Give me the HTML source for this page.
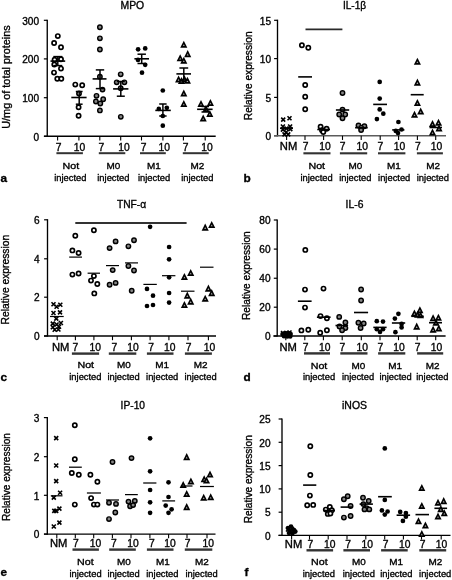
<!DOCTYPE html><html><head><meta charset="utf-8"><style>html,body{margin:0;padding:0;background:#fff;}svg{display:block;will-change:transform;}text{font-family:"Liberation Sans",sans-serif;-webkit-font-smoothing:antialiased;stroke:#000;stroke-width:0.34px;}</style></head><body>
<svg width="452" height="580" viewBox="0 0 452 580">
<rect width="452" height="580" fill="#fff"/>
<line x1="47.25" y1="19.7" x2="47.25" y2="136.9" stroke="#000" stroke-width="1.35"/>
<line x1="43.85" y1="20.3" x2="47.25" y2="20.3" stroke="#000" stroke-width="1.2"/>
<text x="39.1" y="24.5" font-size="10.1" text-anchor="end" font-weight="normal" fill="#000">300</text>
<line x1="43.85" y1="58.9" x2="47.25" y2="58.9" stroke="#000" stroke-width="1.2"/>
<text x="39.1" y="63.1" font-size="10.1" text-anchor="end" font-weight="normal" fill="#000">200</text>
<line x1="43.85" y1="97.7" x2="47.25" y2="97.7" stroke="#000" stroke-width="1.2"/>
<text x="39.1" y="101.9" font-size="10.1" text-anchor="end" font-weight="normal" fill="#000">100</text>
<line x1="43.85" y1="136.3" x2="47.25" y2="136.3" stroke="#000" stroke-width="1.2"/>
<text x="39.1" y="140.5" font-size="10.1" text-anchor="end" font-weight="normal" fill="#000">0</text>
<line x1="44.0" y1="136.3" x2="215.7" y2="136.3" stroke="#000" stroke-width="1.4"/>
<line x1="57.6" y1="136.3" x2="57.6" y2="140.5" stroke="#000" stroke-width="1.1"/>
<line x1="78.9" y1="136.3" x2="78.9" y2="140.5" stroke="#000" stroke-width="1.1"/>
<line x1="99.8" y1="136.3" x2="99.8" y2="140.5" stroke="#000" stroke-width="1.1"/>
<line x1="120.7" y1="136.3" x2="120.7" y2="140.5" stroke="#000" stroke-width="1.1"/>
<line x1="141.5" y1="136.3" x2="141.5" y2="140.5" stroke="#000" stroke-width="1.1"/>
<line x1="162.9" y1="136.3" x2="162.9" y2="140.5" stroke="#000" stroke-width="1.1"/>
<line x1="183.4" y1="136.3" x2="183.4" y2="140.5" stroke="#000" stroke-width="1.1"/>
<line x1="205.2" y1="136.3" x2="205.2" y2="140.5" stroke="#000" stroke-width="1.1"/>
<text x="58.5" y="150.7" font-size="10.3" text-anchor="middle" font-weight="normal" fill="#000">7</text>
<text x="79.4" y="150.7" font-size="10.3" text-anchor="middle" font-weight="normal" fill="#000">10</text>
<text x="101.3" y="150.7" font-size="10.3" text-anchor="middle" font-weight="normal" fill="#000">7</text>
<text x="124" y="150.7" font-size="10.3" text-anchor="middle" font-weight="normal" fill="#000">10</text>
<text x="143.5" y="150.7" font-size="10.3" text-anchor="middle" font-weight="normal" fill="#000">7</text>
<text x="164.2" y="150.7" font-size="10.3" text-anchor="middle" font-weight="normal" fill="#000">10</text>
<text x="185.5" y="150.7" font-size="10.3" text-anchor="middle" font-weight="normal" fill="#000">7</text>
<text x="207.1" y="150.7" font-size="10.3" text-anchor="middle" font-weight="normal" fill="#000">10</text>
<line x1="56.4" y1="153.2" x2="82.9" y2="153.2" stroke="#333" stroke-width="2.0"/>
<line x1="98.8" y1="153.2" x2="125.3" y2="153.2" stroke="#333" stroke-width="2.0"/>
<line x1="140" y1="153.2" x2="165.8" y2="153.2" stroke="#333" stroke-width="2.0"/>
<line x1="182.8" y1="153.2" x2="208.7" y2="153.2" stroke="#333" stroke-width="2.0"/>
<text x="70.9" y="168.9" font-size="9.5" text-anchor="middle" font-weight="normal" fill="#000" textLength="16.6" lengthAdjust="spacingAndGlyphs">Not</text>
<text x="70.3" y="180.8" font-size="9.5" text-anchor="middle" font-weight="normal" fill="#000" textLength="32.2" lengthAdjust="spacingAndGlyphs">injected</text>
<text x="113.4" y="168.9" font-size="9.5" text-anchor="middle" font-weight="normal" fill="#000" textLength="13.8" lengthAdjust="spacingAndGlyphs">M0</text>
<text x="113.4" y="180.8" font-size="9.5" text-anchor="middle" font-weight="normal" fill="#000" textLength="32.2" lengthAdjust="spacingAndGlyphs">injected</text>
<text x="153.9" y="168.9" font-size="9.5" text-anchor="middle" font-weight="normal" fill="#000" textLength="13.8" lengthAdjust="spacingAndGlyphs">M1</text>
<text x="154.1" y="180.8" font-size="9.5" text-anchor="middle" font-weight="normal" fill="#000" textLength="32.2" lengthAdjust="spacingAndGlyphs">injected</text>
<text x="197.4" y="168.9" font-size="9.5" text-anchor="middle" font-weight="normal" fill="#000" textLength="13.8" lengthAdjust="spacingAndGlyphs">M2</text>
<text x="197.3" y="180.8" font-size="9.5" text-anchor="middle" font-weight="normal" fill="#000" textLength="32.2" lengthAdjust="spacingAndGlyphs">injected</text>
<text x="132.35" y="9.1" font-size="10.3" text-anchor="middle" font-weight="normal" fill="#000" textLength="23.7" lengthAdjust="spacingAndGlyphs">MPO</text>
<text x="0" y="0" font-size="10.4" text-anchor="middle" transform="translate(10.0,77.05) rotate(-90)" textLength="103.5" lengthAdjust="spacingAndGlyphs">U/mg of total proteins</text>
<text x="0.4" y="181.8" font-size="11.8" text-anchor="start" font-weight="bold" fill="#000">a</text>
<circle cx="57.8" cy="36.1" r="2.1" fill="#fff" stroke="#000" stroke-width="1.7"/>
<circle cx="54.1" cy="43.0" r="2.1" fill="#fff" stroke="#000" stroke-width="1.7"/>
<circle cx="61.0" cy="47.3" r="2.1" fill="#fff" stroke="#000" stroke-width="1.7"/>
<circle cx="54.6" cy="59.8" r="2.1" fill="#fff" stroke="#000" stroke-width="1.7"/>
<circle cx="61.0" cy="59.2" r="2.1" fill="#fff" stroke="#000" stroke-width="1.7"/>
<circle cx="54.3" cy="64.5" r="2.1" fill="#fff" stroke="#000" stroke-width="1.7"/>
<circle cx="61.0" cy="68.6" r="2.1" fill="#fff" stroke="#000" stroke-width="1.7"/>
<circle cx="54" cy="72.6" r="2.1" fill="#fff" stroke="#000" stroke-width="1.7"/>
<circle cx="57.3" cy="78.8" r="2.1" fill="#fff" stroke="#000" stroke-width="1.7"/>
<circle cx="61.3" cy="78.8" r="2.1" fill="#fff" stroke="#000" stroke-width="1.7"/>
<line x1="50.5" y1="61.1" x2="65.2" y2="61.1" stroke="#000" stroke-width="1.6"/>
<line x1="57.8" y1="56.6" x2="57.8" y2="65.6" stroke="#000" stroke-width="1.5"/>
<line x1="53.3" y1="56.6" x2="62.3" y2="56.6" stroke="#000" stroke-width="1.5"/>
<line x1="53.3" y1="65.6" x2="62.3" y2="65.6" stroke="#000" stroke-width="1.5"/>
<circle cx="75.3" cy="84.6" r="2.1" fill="#fff" stroke="#000" stroke-width="1.7"/>
<circle cx="82.2" cy="85.2" r="2.1" fill="#fff" stroke="#000" stroke-width="1.7"/>
<circle cx="79" cy="93.5" r="2.1" fill="#fff" stroke="#000" stroke-width="1.7"/>
<circle cx="78.6" cy="107.2" r="2.1" fill="#fff" stroke="#000" stroke-width="1.7"/>
<circle cx="78.6" cy="115.8" r="2.1" fill="#fff" stroke="#000" stroke-width="1.7"/>
<line x1="71.3" y1="97.5" x2="86.6" y2="97.5" stroke="#000" stroke-width="1.6"/>
<line x1="79.2" y1="91.5" x2="79.2" y2="104.2" stroke="#000" stroke-width="1.5"/>
<line x1="75.8" y1="91.5" x2="82.60000000000001" y2="91.5" stroke="#000" stroke-width="1.5"/>
<line x1="75.8" y1="104.2" x2="82.60000000000001" y2="104.2" stroke="#000" stroke-width="1.5"/>
<circle cx="99.9" cy="27.3" r="2.2" fill="#858585" stroke="#000" stroke-width="1.45"/>
<circle cx="99.9" cy="38.3" r="2.2" fill="#858585" stroke="#000" stroke-width="1.45"/>
<circle cx="99.9" cy="49.5" r="2.2" fill="#858585" stroke="#000" stroke-width="1.45"/>
<circle cx="99.9" cy="76.7" r="2.2" fill="#858585" stroke="#000" stroke-width="1.45"/>
<circle cx="102.5" cy="89.6" r="2.2" fill="#858585" stroke="#000" stroke-width="1.45"/>
<circle cx="96.5" cy="95.8" r="2.2" fill="#858585" stroke="#000" stroke-width="1.45"/>
<circle cx="103.2" cy="99.2" r="2.2" fill="#858585" stroke="#000" stroke-width="1.45"/>
<circle cx="95.9" cy="101.5" r="2.2" fill="#858585" stroke="#000" stroke-width="1.45"/>
<circle cx="100.3" cy="103.5" r="2.2" fill="#858585" stroke="#000" stroke-width="1.45"/>
<circle cx="99.9" cy="110.4" r="2.2" fill="#858585" stroke="#000" stroke-width="1.45"/>
<line x1="92.6" y1="78.9" x2="106.5" y2="78.9" stroke="#000" stroke-width="1.6"/>
<line x1="100" y1="69.9" x2="100" y2="88.6" stroke="#000" stroke-width="1.5"/>
<line x1="95.8" y1="69.9" x2="104.2" y2="69.9" stroke="#000" stroke-width="1.5"/>
<line x1="95.8" y1="88.6" x2="104.2" y2="88.6" stroke="#000" stroke-width="1.5"/>
<circle cx="120.7" cy="74.3" r="2.2" fill="#858585" stroke="#000" stroke-width="1.45"/>
<circle cx="116.7" cy="82.3" r="2.2" fill="#858585" stroke="#000" stroke-width="1.45"/>
<circle cx="124.4" cy="82.3" r="2.2" fill="#858585" stroke="#000" stroke-width="1.45"/>
<circle cx="120.7" cy="88.2" r="2.2" fill="#858585" stroke="#000" stroke-width="1.45"/>
<circle cx="120.8" cy="116.8" r="2.2" fill="#858585" stroke="#000" stroke-width="1.45"/>
<line x1="113.1" y1="88.9" x2="128.4" y2="88.9" stroke="#000" stroke-width="1.6"/>
<line x1="120.8" y1="81.5" x2="120.8" y2="96.2" stroke="#000" stroke-width="1.5"/>
<line x1="116.8" y1="81.5" x2="124.8" y2="81.5" stroke="#000" stroke-width="1.5"/>
<line x1="116.8" y1="96.2" x2="124.8" y2="96.2" stroke="#000" stroke-width="1.5"/>
<circle cx="138.1" cy="49.3" r="2.35" fill="#000"/>
<circle cx="145.2" cy="48.4" r="2.35" fill="#000"/>
<circle cx="138" cy="59.9" r="2.35" fill="#000"/>
<circle cx="145.2" cy="64.8" r="2.35" fill="#000"/>
<circle cx="142" cy="72.7" r="2.35" fill="#000"/>
<line x1="134.4" y1="58.8" x2="149" y2="58.8" stroke="#000" stroke-width="1.6"/>
<line x1="141.7" y1="54.2" x2="141.7" y2="63.5" stroke="#000" stroke-width="1.5"/>
<line x1="137.5" y1="54.2" x2="145.89999999999998" y2="54.2" stroke="#000" stroke-width="1.5"/>
<line x1="137.5" y1="63.5" x2="145.89999999999998" y2="63.5" stroke="#000" stroke-width="1.5"/>
<circle cx="162.8" cy="90.5" r="2.35" fill="#000"/>
<circle cx="158.8" cy="108.9" r="2.35" fill="#000"/>
<circle cx="166.8" cy="107.8" r="2.35" fill="#000"/>
<circle cx="162.8" cy="116" r="2.35" fill="#000"/>
<circle cx="162.8" cy="125.7" r="2.35" fill="#000"/>
<line x1="155.3" y1="110.4" x2="170.8" y2="110.4" stroke="#000" stroke-width="1.6"/>
<line x1="162.9" y1="104" x2="162.9" y2="116" stroke="#000" stroke-width="1.5"/>
<line x1="159.20000000000002" y1="104" x2="166.6" y2="104" stroke="#000" stroke-width="1.5"/>
<line x1="159.20000000000002" y1="116" x2="166.6" y2="116" stroke="#000" stroke-width="1.5"/>
<polygon points="183.80,40.70 187.35,47.75 180.25,47.75" fill="#000"/>
<polygon points="183.80,44.18 184.72,46.01 182.88,46.01" fill="#aaa"/>
<polygon points="187.70,50.10 191.25,57.15 184.15,57.15" fill="#000"/>
<polygon points="187.70,53.58 188.62,55.41 186.78,55.41" fill="#aaa"/>
<polygon points="180.20,54.20 183.75,61.25 176.65,61.25" fill="#000"/>
<polygon points="180.20,57.68 181.12,59.51 179.28,59.51" fill="#aaa"/>
<polygon points="183.80,56.70 187.35,63.75 180.25,63.75" fill="#000"/>
<polygon points="183.80,60.18 184.72,62.01 182.88,62.01" fill="#aaa"/>
<polygon points="178.60,75.50 182.15,82.55 175.05,82.55" fill="#000"/>
<polygon points="178.60,78.98 179.52,80.81 177.68,80.81" fill="#aaa"/>
<polygon points="181.50,76.90 185.05,83.95 177.95,83.95" fill="#000"/>
<polygon points="181.50,80.38 182.42,82.21 180.58,82.21" fill="#aaa"/>
<polygon points="184.50,75.30 188.05,82.35 180.95,82.35" fill="#000"/>
<polygon points="184.50,78.78 185.42,80.61 183.58,80.61" fill="#aaa"/>
<polygon points="187.40,76.70 190.95,83.75 183.85,83.75" fill="#000"/>
<polygon points="187.40,80.18 188.32,82.01 186.48,82.01" fill="#aaa"/>
<polygon points="183.80,89.50 187.35,96.55 180.25,96.55" fill="#000"/>
<polygon points="183.80,92.98 184.72,94.81 182.88,94.81" fill="#aaa"/>
<polygon points="183.80,100.00 187.35,107.05 180.25,107.05" fill="#000"/>
<polygon points="183.80,103.48 184.72,105.31 182.88,105.31" fill="#aaa"/>
<line x1="176.4" y1="73.9" x2="191" y2="73.9" stroke="#000" stroke-width="1.6"/>
<line x1="183.8" y1="68" x2="183.8" y2="80" stroke="#000" stroke-width="1.5"/>
<line x1="179.4" y1="68" x2="188.20000000000002" y2="68" stroke="#000" stroke-width="1.5"/>
<line x1="179.4" y1="80" x2="188.20000000000002" y2="80" stroke="#000" stroke-width="1.5"/>
<polygon points="201.00,100.00 204.55,107.05 197.45,107.05" fill="#000"/>
<polygon points="201.00,103.48 201.92,105.31 200.08,105.31" fill="#aaa"/>
<polygon points="210.40,98.90 213.95,105.95 206.85,105.95" fill="#000"/>
<polygon points="210.40,102.38 211.32,104.21 209.48,104.21" fill="#aaa"/>
<polygon points="206.00,105.00 209.55,112.05 202.45,112.05" fill="#000"/>
<polygon points="206.00,108.48 206.92,110.31 205.08,110.31" fill="#aaa"/>
<polygon points="209.80,109.90 213.35,116.95 206.25,116.95" fill="#000"/>
<polygon points="209.80,113.38 210.72,115.21 208.88,115.21" fill="#aaa"/>
<polygon points="203.20,114.40 206.75,121.45 199.65,121.45" fill="#000"/>
<polygon points="203.20,117.88 204.12,119.71 202.28,119.71" fill="#aaa"/>
<line x1="197.1" y1="109.3" x2="212.6" y2="109.3" stroke="#000" stroke-width="1.6"/>
<line x1="205.3" y1="106.5" x2="205.3" y2="112" stroke="#000" stroke-width="1.5"/>
<line x1="201.5" y1="106.5" x2="209.10000000000002" y2="106.5" stroke="#000" stroke-width="1.5"/>
<line x1="201.5" y1="112" x2="209.10000000000002" y2="112" stroke="#000" stroke-width="1.5"/>
<line x1="277.5" y1="19.7" x2="277.5" y2="136.35" stroke="#000" stroke-width="1.35"/>
<line x1="274.1" y1="20.3" x2="277.5" y2="20.3" stroke="#000" stroke-width="1.2"/>
<text x="271.0" y="24.5" font-size="10.1" text-anchor="end" font-weight="normal" fill="#000">15</text>
<line x1="274.1" y1="58.6" x2="277.5" y2="58.6" stroke="#000" stroke-width="1.2"/>
<text x="271.0" y="62.800000000000004" font-size="10.1" text-anchor="end" font-weight="normal" fill="#000">10</text>
<line x1="274.1" y1="97.4" x2="277.5" y2="97.4" stroke="#000" stroke-width="1.2"/>
<text x="271.0" y="101.60000000000001" font-size="10.1" text-anchor="end" font-weight="normal" fill="#000">5</text>
<line x1="274.1" y1="135.75" x2="277.5" y2="135.75" stroke="#000" stroke-width="1.2"/>
<text x="271.0" y="139.95" font-size="10.1" text-anchor="end" font-weight="normal" fill="#000">0</text>
<line x1="274.0" y1="135.75" x2="446.0" y2="135.75" stroke="#5c5c5c" stroke-width="1.4"/>
<line x1="286.6" y1="135.75" x2="286.6" y2="139.95" stroke="#000" stroke-width="1.1"/>
<line x1="305.0" y1="135.75" x2="305.0" y2="139.95" stroke="#000" stroke-width="1.1"/>
<line x1="323.6" y1="135.75" x2="323.6" y2="139.95" stroke="#000" stroke-width="1.1"/>
<line x1="342.5" y1="135.75" x2="342.5" y2="139.95" stroke="#000" stroke-width="1.1"/>
<line x1="361.2" y1="135.75" x2="361.2" y2="139.95" stroke="#000" stroke-width="1.1"/>
<line x1="380.2" y1="135.75" x2="380.2" y2="139.95" stroke="#000" stroke-width="1.1"/>
<line x1="398.6" y1="135.75" x2="398.6" y2="139.95" stroke="#000" stroke-width="1.1"/>
<line x1="417.4" y1="135.75" x2="417.4" y2="139.95" stroke="#000" stroke-width="1.1"/>
<line x1="435.7" y1="135.75" x2="435.7" y2="139.95" stroke="#000" stroke-width="1.1"/>
<text x="288.5" y="150.4" font-size="10.3" text-anchor="middle" font-weight="normal" fill="#000" textLength="17.4" lengthAdjust="spacingAndGlyphs">NM</text>
<text x="305.7" y="150.4" font-size="10.3" text-anchor="middle" font-weight="normal" fill="#000">7</text>
<text x="325" y="150.4" font-size="10.3" text-anchor="middle" font-weight="normal" fill="#000">10</text>
<text x="342.5" y="150.4" font-size="10.3" text-anchor="middle" font-weight="normal" fill="#000">7</text>
<text x="362.2" y="150.4" font-size="10.3" text-anchor="middle" font-weight="normal" fill="#000">10</text>
<text x="380.3" y="150.4" font-size="10.3" text-anchor="middle" font-weight="normal" fill="#000">7</text>
<text x="399.5" y="150.4" font-size="10.3" text-anchor="middle" font-weight="normal" fill="#000">10</text>
<text x="417.8" y="150.4" font-size="10.3" text-anchor="middle" font-weight="normal" fill="#000">7</text>
<text x="436.4" y="150.4" font-size="10.3" text-anchor="middle" font-weight="normal" fill="#000">10</text>
<line x1="303.4" y1="153.3" x2="330.5" y2="153.3" stroke="#333" stroke-width="2.1"/>
<line x1="339.9" y1="153.3" x2="367.2" y2="153.3" stroke="#333" stroke-width="2.1"/>
<line x1="378" y1="153.3" x2="405.4" y2="153.3" stroke="#333" stroke-width="2.1"/>
<line x1="416.9" y1="153.3" x2="442.9" y2="153.3" stroke="#333" stroke-width="2.1"/>
<text x="316.8" y="168.7" font-size="9.5" text-anchor="middle" font-weight="normal" fill="#000" textLength="16.6" lengthAdjust="spacingAndGlyphs">Not</text>
<text x="316.6" y="181.1" font-size="9.5" text-anchor="middle" font-weight="normal" fill="#000" textLength="32.2" lengthAdjust="spacingAndGlyphs">injected</text>
<text x="355.3" y="168.7" font-size="9.5" text-anchor="middle" font-weight="normal" fill="#000" textLength="13.8" lengthAdjust="spacingAndGlyphs">M0</text>
<text x="355.3" y="181.1" font-size="9.5" text-anchor="middle" font-weight="normal" fill="#000" textLength="32.2" lengthAdjust="spacingAndGlyphs">injected</text>
<text x="394" y="168.7" font-size="9.5" text-anchor="middle" font-weight="normal" fill="#000" textLength="13.8" lengthAdjust="spacingAndGlyphs">M1</text>
<text x="394.2" y="181.1" font-size="9.5" text-anchor="middle" font-weight="normal" fill="#000" textLength="32.2" lengthAdjust="spacingAndGlyphs">injected</text>
<text x="433.1" y="168.7" font-size="9.5" text-anchor="middle" font-weight="normal" fill="#000" textLength="13.8" lengthAdjust="spacingAndGlyphs">M2</text>
<text x="432.9" y="181.1" font-size="9.5" text-anchor="middle" font-weight="normal" fill="#000" textLength="32.2" lengthAdjust="spacingAndGlyphs">injected</text>
<text x="354.5" y="9.0" font-size="10.3" text-anchor="middle" font-weight="normal" fill="#000" textLength="23.2" lengthAdjust="spacingAndGlyphs">IL-1β</text>
<text x="0" y="0" font-size="10.4" text-anchor="middle" transform="translate(251.7,75.80) rotate(-90)" textLength="88.8" lengthAdjust="spacingAndGlyphs">Relative expression</text>
<text x="243.4" y="181.8" font-size="11.8" text-anchor="start" font-weight="bold" fill="#000">b</text>
<line x1="305.5" y1="29.4" x2="342.4" y2="29.4" stroke="#2a2a2a" stroke-width="1.7"/>
<path d="M281.20,117.60L285.20,121.60M285.20,117.60L281.20,121.60" stroke="#000" stroke-width="1.6" fill="none"/>
<path d="M287.50,116.20L291.50,120.20M291.50,116.20L287.50,120.20" stroke="#000" stroke-width="1.6" fill="none"/>
<path d="M280.90,124.50L284.90,128.50M284.90,124.50L280.90,128.50" stroke="#000" stroke-width="1.6" fill="none"/>
<path d="M288.10,124.50L292.10,128.50M292.10,124.50L288.10,128.50" stroke="#000" stroke-width="1.6" fill="none"/>
<path d="M280.90,127.60L284.90,131.60M284.90,127.60L280.90,131.60" stroke="#000" stroke-width="1.6" fill="none"/>
<path d="M288.30,127.10L292.30,131.10M292.30,127.10L288.30,131.10" stroke="#000" stroke-width="1.6" fill="none"/>
<path d="M284.10,130.30L288.10,134.30M288.10,130.30L284.10,134.30" stroke="#000" stroke-width="1.6" fill="none"/>
<path d="M282.50,132.40L286.50,136.40M286.50,132.40L282.50,136.40" stroke="#000" stroke-width="1.6" fill="none"/>
<path d="M286.20,132.40L290.20,136.40M290.20,132.40L286.20,136.40" stroke="#000" stroke-width="1.6" fill="none"/>
<path d="M284.50,126.50L288.50,130.50M288.50,126.50L284.50,130.50" stroke="#000" stroke-width="1.6" fill="none"/>
<line x1="280" y1="128.3" x2="293" y2="128.3" stroke="#000" stroke-width="1.6"/>
<circle cx="301.9" cy="45.2" r="2.1" fill="#fff" stroke="#000" stroke-width="1.7"/>
<circle cx="308.3" cy="47.8" r="2.1" fill="#fff" stroke="#000" stroke-width="1.7"/>
<circle cx="305.2" cy="85" r="2.1" fill="#fff" stroke="#000" stroke-width="1.7"/>
<circle cx="305.2" cy="96.7" r="2.1" fill="#fff" stroke="#000" stroke-width="1.7"/>
<circle cx="305.2" cy="109.2" r="2.1" fill="#fff" stroke="#000" stroke-width="1.7"/>
<line x1="298.2" y1="76.9" x2="312" y2="76.9" stroke="#000" stroke-width="1.6"/>
<circle cx="320.6" cy="126.8" r="2.1" fill="#fff" stroke="#000" stroke-width="1.7"/>
<circle cx="326.6" cy="128.8" r="2.1" fill="#fff" stroke="#000" stroke-width="1.7"/>
<circle cx="322" cy="130.2" r="2.1" fill="#fff" stroke="#000" stroke-width="1.7"/>
<circle cx="323.3" cy="132.1" r="2.1" fill="#fff" stroke="#000" stroke-width="1.7"/>
<line x1="317.3" y1="129.5" x2="330" y2="129.5" stroke="#000" stroke-width="1.6"/>
<circle cx="342.5" cy="93" r="2.2" fill="#858585" stroke="#000" stroke-width="1.45"/>
<circle cx="342.5" cy="109.6" r="2.2" fill="#858585" stroke="#000" stroke-width="1.45"/>
<circle cx="339.2" cy="114.5" r="2.2" fill="#858585" stroke="#000" stroke-width="1.45"/>
<circle cx="345.2" cy="114.5" r="2.2" fill="#858585" stroke="#000" stroke-width="1.45"/>
<circle cx="342.5" cy="118.2" r="2.2" fill="#858585" stroke="#000" stroke-width="1.45"/>
<line x1="335.9" y1="110" x2="349.2" y2="110" stroke="#000" stroke-width="1.6"/>
<circle cx="358.5" cy="125.5" r="2.2" fill="#858585" stroke="#000" stroke-width="1.45"/>
<circle cx="364.4" cy="126.2" r="2.2" fill="#858585" stroke="#000" stroke-width="1.45"/>
<circle cx="361.2" cy="127.8" r="2.2" fill="#858585" stroke="#000" stroke-width="1.45"/>
<circle cx="361.1" cy="130.1" r="2.2" fill="#858585" stroke="#000" stroke-width="1.45"/>
<line x1="355.1" y1="127.7" x2="367.7" y2="127.7" stroke="#000" stroke-width="1.6"/>
<circle cx="379.7" cy="81.9" r="2.35" fill="#000"/>
<circle cx="379.7" cy="98.6" r="2.35" fill="#000"/>
<circle cx="379.7" cy="109.4" r="2.35" fill="#000"/>
<circle cx="383.3" cy="113.7" r="2.35" fill="#000"/>
<circle cx="376.9" cy="119.1" r="2.35" fill="#000"/>
<line x1="373.2" y1="104.4" x2="387" y2="104.4" stroke="#000" stroke-width="1.6"/>
<circle cx="398.4" cy="122" r="2.35" fill="#000"/>
<circle cx="395.8" cy="130.9" r="2.35" fill="#000"/>
<circle cx="401.5" cy="129.5" r="2.35" fill="#000"/>
<circle cx="398" cy="133.1" r="2.35" fill="#000"/>
<line x1="392.2" y1="129.9" x2="404.4" y2="129.9" stroke="#000" stroke-width="1.6"/>
<polygon points="417.40,57.70 420.95,64.75 413.85,64.75" fill="#000"/>
<polygon points="417.40,61.18 418.32,63.01 416.48,63.01" fill="#aaa"/>
<polygon points="417.40,78.60 420.95,85.65 413.85,85.65" fill="#000"/>
<polygon points="417.40,82.08 418.32,83.91 416.48,83.91" fill="#aaa"/>
<polygon points="417.40,98.90 420.95,105.95 413.85,105.95" fill="#000"/>
<polygon points="417.40,102.38 418.32,104.21 416.48,104.21" fill="#aaa"/>
<polygon points="420.70,107.50 424.25,114.55 417.15,114.55" fill="#000"/>
<polygon points="420.70,110.98 421.62,112.81 419.78,112.81" fill="#aaa"/>
<polygon points="414.50,110.80 418.05,117.85 410.95,117.85" fill="#000"/>
<polygon points="414.50,114.28 415.42,116.11 413.58,116.11" fill="#aaa"/>
<line x1="410.7" y1="94.7" x2="423.7" y2="94.7" stroke="#000" stroke-width="1.6"/>
<polygon points="432.50,119.90 436.05,126.95 428.95,126.95" fill="#000"/>
<polygon points="432.50,123.38 433.42,125.21 431.58,125.21" fill="#aaa"/>
<polygon points="438.50,118.70 442.05,125.75 434.95,125.75" fill="#000"/>
<polygon points="438.50,122.18 439.42,124.01 437.58,124.01" fill="#aaa"/>
<polygon points="439.00,124.50 442.55,131.55 435.45,131.55" fill="#000"/>
<polygon points="439.00,127.98 439.92,129.81 438.08,129.81" fill="#aaa"/>
<polygon points="432.50,128.50 436.05,135.55 428.95,135.55" fill="#000"/>
<polygon points="432.50,131.98 433.42,133.81 431.58,133.81" fill="#aaa"/>
<line x1="429.5" y1="127.5" x2="442" y2="127.5" stroke="#000" stroke-width="1.6"/>
<line x1="47.5" y1="219.20000000000002" x2="47.5" y2="336.6" stroke="#000" stroke-width="1.35"/>
<line x1="44.1" y1="219.8" x2="47.5" y2="219.8" stroke="#000" stroke-width="1.2"/>
<text x="39.6" y="224.0" font-size="10.1" text-anchor="end" font-weight="normal" fill="#000">6</text>
<line x1="44.1" y1="258.8" x2="47.5" y2="258.8" stroke="#000" stroke-width="1.2"/>
<text x="39.6" y="263.0" font-size="10.1" text-anchor="end" font-weight="normal" fill="#000">4</text>
<line x1="44.1" y1="297.2" x2="47.5" y2="297.2" stroke="#000" stroke-width="1.2"/>
<text x="39.6" y="301.4" font-size="10.1" text-anchor="end" font-weight="normal" fill="#000">2</text>
<line x1="44.1" y1="336" x2="47.5" y2="336" stroke="#000" stroke-width="1.2"/>
<text x="39.6" y="340.2" font-size="10.1" text-anchor="end" font-weight="normal" fill="#000">0</text>
<line x1="44.0" y1="336.0" x2="216.0" y2="336.0" stroke="#000" stroke-width="1.4"/>
<line x1="57.2" y1="336.0" x2="57.2" y2="340.2" stroke="#000" stroke-width="1.1"/>
<line x1="75.4" y1="336.0" x2="75.4" y2="340.2" stroke="#000" stroke-width="1.1"/>
<line x1="93.9" y1="336.0" x2="93.9" y2="340.2" stroke="#000" stroke-width="1.1"/>
<line x1="112.5" y1="336.0" x2="112.5" y2="340.2" stroke="#000" stroke-width="1.1"/>
<line x1="131.4" y1="336.0" x2="131.4" y2="340.2" stroke="#000" stroke-width="1.1"/>
<line x1="150.1" y1="336.0" x2="150.1" y2="340.2" stroke="#000" stroke-width="1.1"/>
<line x1="168.9" y1="336.0" x2="168.9" y2="340.2" stroke="#000" stroke-width="1.1"/>
<line x1="188" y1="336.0" x2="188" y2="340.2" stroke="#000" stroke-width="1.1"/>
<line x1="208.4" y1="336.0" x2="208.4" y2="340.2" stroke="#000" stroke-width="1.1"/>
<text x="60.6" y="350.6" font-size="10.3" text-anchor="middle" font-weight="normal" fill="#000" textLength="17.4" lengthAdjust="spacingAndGlyphs">NM</text>
<text x="75.4" y="350.6" font-size="10.3" text-anchor="middle" font-weight="normal" fill="#000">7</text>
<text x="95.2" y="350.6" font-size="10.3" text-anchor="middle" font-weight="normal" fill="#000">10</text>
<text x="114.4" y="350.6" font-size="10.3" text-anchor="middle" font-weight="normal" fill="#000">7</text>
<text x="133" y="350.6" font-size="10.3" text-anchor="middle" font-weight="normal" fill="#000">10</text>
<text x="151.1" y="350.6" font-size="10.3" text-anchor="middle" font-weight="normal" fill="#000">7</text>
<text x="169.7" y="350.6" font-size="10.3" text-anchor="middle" font-weight="normal" fill="#000">10</text>
<text x="188.6" y="350.6" font-size="10.3" text-anchor="middle" font-weight="normal" fill="#000">7</text>
<text x="209.6" y="350.6" font-size="10.3" text-anchor="middle" font-weight="normal" fill="#000">10</text>
<line x1="71.9" y1="353.6" x2="99.1" y2="353.6" stroke="#333" stroke-width="2.4"/>
<line x1="108.8" y1="353.6" x2="136.3" y2="353.6" stroke="#333" stroke-width="2.4"/>
<line x1="146.9" y1="353.6" x2="173.5" y2="353.6" stroke="#333" stroke-width="2.4"/>
<line x1="184.9" y1="353.6" x2="211.9" y2="353.6" stroke="#333" stroke-width="2.4"/>
<text x="85.8" y="367.8" font-size="9.5" text-anchor="middle" font-weight="normal" fill="#000" textLength="16.6" lengthAdjust="spacingAndGlyphs">Not</text>
<text x="85.4" y="380.3" font-size="9.5" text-anchor="middle" font-weight="normal" fill="#000" textLength="32.2" lengthAdjust="spacingAndGlyphs">injected</text>
<text x="124" y="367.8" font-size="9.5" text-anchor="middle" font-weight="normal" fill="#000" textLength="13.8" lengthAdjust="spacingAndGlyphs">M0</text>
<text x="123.6" y="380.3" font-size="9.5" text-anchor="middle" font-weight="normal" fill="#000" textLength="32.2" lengthAdjust="spacingAndGlyphs">injected</text>
<text x="162.2" y="367.8" font-size="9.5" text-anchor="middle" font-weight="normal" fill="#000" textLength="13.8" lengthAdjust="spacingAndGlyphs">M1</text>
<text x="162.2" y="380.3" font-size="9.5" text-anchor="middle" font-weight="normal" fill="#000" textLength="32.2" lengthAdjust="spacingAndGlyphs">injected</text>
<text x="200.7" y="367.8" font-size="9.5" text-anchor="middle" font-weight="normal" fill="#000" textLength="13.8" lengthAdjust="spacingAndGlyphs">M2</text>
<text x="200.5" y="380.3" font-size="9.5" text-anchor="middle" font-weight="normal" fill="#000" textLength="32.2" lengthAdjust="spacingAndGlyphs">injected</text>
<text x="131.5" y="207.9" font-size="10.3" text-anchor="middle" font-weight="normal" fill="#000" textLength="29.2" lengthAdjust="spacingAndGlyphs">TNF-α</text>
<text x="0" y="0" font-size="10.4" text-anchor="middle" transform="translate(9.0,279.65) rotate(-90)" textLength="89.7" lengthAdjust="spacingAndGlyphs">Relative expression</text>
<text x="0.4" y="380.9" font-size="11.8" text-anchor="start" font-weight="bold" fill="#000">c</text>
<line x1="75.3" y1="223" x2="186.6" y2="223" stroke="#333" stroke-width="1.8"/>
<path d="M51.50,302.30L55.50,306.30M55.50,302.30L51.50,306.30" stroke="#000" stroke-width="1.6" fill="none"/>
<path d="M58.30,302.70L62.30,306.70M62.30,302.70L58.30,306.70" stroke="#000" stroke-width="1.6" fill="none"/>
<path d="M54.60,304.80L58.60,308.80M58.60,304.80L54.60,308.80" stroke="#000" stroke-width="1.6" fill="none"/>
<path d="M51.50,311.00L55.50,315.00M55.50,311.00L51.50,315.00" stroke="#000" stroke-width="1.6" fill="none"/>
<path d="M58.00,310.40L62.00,314.40M62.00,310.40L58.00,314.40" stroke="#000" stroke-width="1.6" fill="none"/>
<path d="M54.30,316.60L58.30,320.60M58.30,316.60L54.30,320.60" stroke="#000" stroke-width="1.6" fill="none"/>
<path d="M50.80,321.60L54.80,325.60M54.80,321.60L50.80,325.60" stroke="#000" stroke-width="1.6" fill="none"/>
<path d="M58.90,321.00L62.90,325.00M62.90,321.00L58.90,325.00" stroke="#000" stroke-width="1.6" fill="none"/>
<path d="M54.60,322.50L58.60,326.50M58.60,322.50L54.60,326.50" stroke="#000" stroke-width="1.6" fill="none"/>
<path d="M50.80,325.30L54.80,329.30M54.80,325.30L50.80,329.30" stroke="#000" stroke-width="1.6" fill="none"/>
<path d="M57.00,324.70L61.00,328.70M61.00,324.70L57.00,328.70" stroke="#000" stroke-width="1.6" fill="none"/>
<path d="M52.70,327.80L56.70,331.80M56.70,327.80L52.70,331.80" stroke="#000" stroke-width="1.6" fill="none"/>
<path d="M56.40,327.50L60.40,331.50M60.40,327.50L56.40,331.50" stroke="#000" stroke-width="1.6" fill="none"/>
<line x1="50.0" y1="316.5" x2="63.7" y2="316.5" stroke="#000" stroke-width="1.2"/>
<circle cx="75.3" cy="235.8" r="2.1" fill="#fff" stroke="#000" stroke-width="1.7"/>
<circle cx="72.4" cy="250.4" r="2.1" fill="#fff" stroke="#000" stroke-width="1.7"/>
<circle cx="78.6" cy="253" r="2.1" fill="#fff" stroke="#000" stroke-width="1.7"/>
<circle cx="72.4" cy="274.6" r="2.1" fill="#fff" stroke="#000" stroke-width="1.7"/>
<circle cx="78.6" cy="273.5" r="2.1" fill="#fff" stroke="#000" stroke-width="1.7"/>
<line x1="69.2" y1="257.1" x2="82" y2="257.1" stroke="#000" stroke-width="1.2"/>
<circle cx="93.9" cy="230.2" r="2.1" fill="#fff" stroke="#000" stroke-width="1.7"/>
<circle cx="93.9" cy="276.1" r="2.1" fill="#fff" stroke="#000" stroke-width="1.7"/>
<circle cx="91" cy="280.6" r="2.1" fill="#fff" stroke="#000" stroke-width="1.7"/>
<circle cx="97.3" cy="284" r="2.1" fill="#fff" stroke="#000" stroke-width="1.7"/>
<circle cx="94.3" cy="293.4" r="2.1" fill="#fff" stroke="#000" stroke-width="1.7"/>
<line x1="87.6" y1="273.2" x2="100" y2="273.2" stroke="#000" stroke-width="1.2"/>
<circle cx="115.6" cy="241.4" r="2.2" fill="#858585" stroke="#000" stroke-width="1.45"/>
<circle cx="109.6" cy="248.1" r="2.2" fill="#858585" stroke="#000" stroke-width="1.45"/>
<circle cx="112.7" cy="270.1" r="2.2" fill="#858585" stroke="#000" stroke-width="1.45"/>
<circle cx="109.6" cy="284.7" r="2.2" fill="#858585" stroke="#000" stroke-width="1.45"/>
<circle cx="115.6" cy="282.9" r="2.2" fill="#858585" stroke="#000" stroke-width="1.45"/>
<line x1="106" y1="265.6" x2="119" y2="265.6" stroke="#000" stroke-width="1.2"/>
<circle cx="134" cy="240.2" r="2.2" fill="#858585" stroke="#000" stroke-width="1.45"/>
<circle cx="128.4" cy="246.3" r="2.2" fill="#858585" stroke="#000" stroke-width="1.45"/>
<circle cx="128.4" cy="266" r="2.2" fill="#858585" stroke="#000" stroke-width="1.45"/>
<circle cx="134" cy="270.5" r="2.2" fill="#858585" stroke="#000" stroke-width="1.45"/>
<circle cx="131.7" cy="290.7" r="2.2" fill="#858585" stroke="#000" stroke-width="1.45"/>
<line x1="125" y1="262.9" x2="138" y2="262.9" stroke="#000" stroke-width="1.2"/>
<circle cx="150.1" cy="226.8" r="2.35" fill="#000"/>
<circle cx="147" cy="288.9" r="2.35" fill="#000"/>
<circle cx="153" cy="295.7" r="2.35" fill="#000"/>
<circle cx="147" cy="306" r="2.35" fill="#000"/>
<circle cx="153" cy="305" r="2.35" fill="#000"/>
<line x1="143.4" y1="284.4" x2="156.8" y2="284.4" stroke="#000" stroke-width="1.2"/>
<circle cx="169.1" cy="247" r="2.35" fill="#000"/>
<circle cx="169.1" cy="259.3" r="2.35" fill="#000"/>
<circle cx="169.1" cy="277.3" r="2.35" fill="#000"/>
<circle cx="169.1" cy="293" r="2.35" fill="#000"/>
<circle cx="169.1" cy="302.6" r="2.35" fill="#000"/>
<line x1="162" y1="275.7" x2="175.4" y2="275.7" stroke="#000" stroke-width="1.2"/>
<polygon points="184.40,273.00 187.95,280.05 180.85,280.05" fill="#000"/>
<polygon points="184.40,276.48 185.32,278.31 183.48,278.31" fill="#aaa"/>
<polygon points="190.70,268.90 194.25,275.95 187.15,275.95" fill="#000"/>
<polygon points="190.70,272.38 191.62,274.21 189.78,274.21" fill="#aaa"/>
<polygon points="187.30,291.60 190.85,298.65 183.75,298.65" fill="#000"/>
<polygon points="187.30,295.08 188.22,296.91 186.38,296.91" fill="#aaa"/>
<polygon points="190.70,297.60 194.25,304.65 187.15,304.65" fill="#000"/>
<polygon points="190.70,301.08 191.62,302.91 189.78,302.91" fill="#aaa"/>
<polygon points="184.40,301.00 187.95,308.05 180.85,308.05" fill="#000"/>
<polygon points="184.40,304.48 185.32,306.31 183.48,306.31" fill="#aaa"/>
<line x1="181" y1="291.2" x2="194.5" y2="291.2" stroke="#000" stroke-width="1.2"/>
<polygon points="205.20,223.60 208.75,230.65 201.65,230.65" fill="#000"/>
<polygon points="205.20,227.08 206.12,228.91 204.28,228.91" fill="#aaa"/>
<polygon points="211.70,220.90 215.25,227.95 208.15,227.95" fill="#000"/>
<polygon points="211.70,224.38 212.62,226.21 210.78,226.21" fill="#aaa"/>
<polygon points="208.40,284.60 211.95,291.65 204.85,291.65" fill="#000"/>
<polygon points="208.40,288.08 209.32,289.91 207.48,289.91" fill="#aaa"/>
<polygon points="211.70,289.10 215.25,296.15 208.15,296.15" fill="#000"/>
<polygon points="211.70,292.58 212.62,294.41 210.78,294.41" fill="#aaa"/>
<polygon points="205.20,294.70 208.75,301.75 201.65,301.75" fill="#000"/>
<polygon points="205.20,298.18 206.12,300.01 204.28,300.01" fill="#aaa"/>
<line x1="200" y1="267.2" x2="213.5" y2="267.2" stroke="#000" stroke-width="1.2"/>
<line x1="277.2" y1="219.4" x2="277.2" y2="336.6" stroke="#000" stroke-width="1.35"/>
<line x1="273.8" y1="220" x2="277.2" y2="220" stroke="#000" stroke-width="1.2"/>
<text x="270.5" y="224.2" font-size="10.1" text-anchor="end" font-weight="normal" fill="#000">80</text>
<line x1="273.8" y1="249.1" x2="277.2" y2="249.1" stroke="#000" stroke-width="1.2"/>
<text x="270.5" y="253.29999999999998" font-size="10.1" text-anchor="end" font-weight="normal" fill="#000">60</text>
<line x1="273.8" y1="278.25" x2="277.2" y2="278.25" stroke="#000" stroke-width="1.2"/>
<text x="270.5" y="282.45" font-size="10.1" text-anchor="end" font-weight="normal" fill="#000">40</text>
<line x1="273.8" y1="307.2" x2="277.2" y2="307.2" stroke="#000" stroke-width="1.2"/>
<text x="270.5" y="311.4" font-size="10.1" text-anchor="end" font-weight="normal" fill="#000">20</text>
<line x1="273.8" y1="336.0" x2="277.2" y2="336.0" stroke="#000" stroke-width="1.2"/>
<text x="270.5" y="340.2" font-size="10.1" text-anchor="end" font-weight="normal" fill="#000">0</text>
<line x1="273.4" y1="336.0" x2="445.6" y2="336.0" stroke="#000" stroke-width="1.4"/>
<line x1="285.8" y1="336.0" x2="285.8" y2="340.2" stroke="#000" stroke-width="1.1"/>
<line x1="304.8" y1="336.0" x2="304.8" y2="340.2" stroke="#000" stroke-width="1.1"/>
<line x1="323.4" y1="336.0" x2="323.4" y2="340.2" stroke="#000" stroke-width="1.1"/>
<line x1="342.2" y1="336.0" x2="342.2" y2="340.2" stroke="#000" stroke-width="1.1"/>
<line x1="361.3" y1="336.0" x2="361.3" y2="340.2" stroke="#000" stroke-width="1.1"/>
<line x1="380" y1="336.0" x2="380" y2="340.2" stroke="#000" stroke-width="1.1"/>
<line x1="398.5" y1="336.0" x2="398.5" y2="340.2" stroke="#000" stroke-width="1.1"/>
<line x1="417.2" y1="336.0" x2="417.2" y2="340.2" stroke="#000" stroke-width="1.1"/>
<line x1="435.7" y1="336.0" x2="435.7" y2="340.2" stroke="#000" stroke-width="1.1"/>
<text x="288.1" y="350.6" font-size="10.3" text-anchor="middle" font-weight="normal" fill="#000" textLength="17.4" lengthAdjust="spacingAndGlyphs">NM</text>
<text x="305.7" y="350.6" font-size="10.3" text-anchor="middle" font-weight="normal" fill="#000">7</text>
<text x="324.8" y="350.6" font-size="10.3" text-anchor="middle" font-weight="normal" fill="#000">10</text>
<text x="342.4" y="350.6" font-size="10.3" text-anchor="middle" font-weight="normal" fill="#000">7</text>
<text x="362.2" y="350.6" font-size="10.3" text-anchor="middle" font-weight="normal" fill="#000">10</text>
<text x="380.4" y="350.6" font-size="10.3" text-anchor="middle" font-weight="normal" fill="#000">7</text>
<text x="399" y="350.6" font-size="10.3" text-anchor="middle" font-weight="normal" fill="#000">10</text>
<text x="417.6" y="350.6" font-size="10.3" text-anchor="middle" font-weight="normal" fill="#000">7</text>
<text x="436.6" y="350.6" font-size="10.3" text-anchor="middle" font-weight="normal" fill="#000">10</text>
<line x1="304" y1="353.4" x2="330" y2="353.4" stroke="#333" stroke-width="2.4"/>
<line x1="340.3" y1="353.4" x2="367.5" y2="353.4" stroke="#333" stroke-width="2.4"/>
<line x1="378.1" y1="353.4" x2="405.3" y2="353.4" stroke="#333" stroke-width="2.4"/>
<line x1="417.1" y1="353.4" x2="443.2" y2="353.4" stroke="#333" stroke-width="2.4"/>
<text x="319" y="368.9" font-size="9.5" text-anchor="middle" font-weight="normal" fill="#000" textLength="16.6" lengthAdjust="spacingAndGlyphs">Not</text>
<text x="319" y="380.4" font-size="9.5" text-anchor="middle" font-weight="normal" fill="#000" textLength="32.2" lengthAdjust="spacingAndGlyphs">injected</text>
<text x="358.3" y="368.9" font-size="9.5" text-anchor="middle" font-weight="normal" fill="#000" textLength="13.8" lengthAdjust="spacingAndGlyphs">M0</text>
<text x="358" y="380.4" font-size="9.5" text-anchor="middle" font-weight="normal" fill="#000" textLength="32.2" lengthAdjust="spacingAndGlyphs">injected</text>
<text x="395.2" y="368.9" font-size="9.5" text-anchor="middle" font-weight="normal" fill="#000" textLength="13.8" lengthAdjust="spacingAndGlyphs">M1</text>
<text x="395.6" y="380.4" font-size="9.5" text-anchor="middle" font-weight="normal" fill="#000" textLength="32.2" lengthAdjust="spacingAndGlyphs">injected</text>
<text x="432.7" y="368.9" font-size="9.5" text-anchor="middle" font-weight="normal" fill="#000" textLength="13.8" lengthAdjust="spacingAndGlyphs">M2</text>
<text x="432.4" y="380.4" font-size="9.5" text-anchor="middle" font-weight="normal" fill="#000" textLength="32.2" lengthAdjust="spacingAndGlyphs">injected</text>
<text x="354.5" y="207.9" font-size="10.3" text-anchor="middle" font-weight="normal" fill="#000" textLength="17.8" lengthAdjust="spacingAndGlyphs">IL-6</text>
<text x="0" y="0" font-size="10.4" text-anchor="middle" transform="translate(249.7,275.65) rotate(-90)" textLength="88.7" lengthAdjust="spacingAndGlyphs">Relative expression</text>
<text x="243.4" y="380.6" font-size="11.8" text-anchor="start" font-weight="bold" fill="#000">d</text>
<circle cx="282.6" cy="334" r="2.35" fill="#000"/>
<circle cx="285.2" cy="333" r="2.35" fill="#000"/>
<circle cx="288.2" cy="333" r="2.35" fill="#000"/>
<circle cx="290.6" cy="334" r="2.35" fill="#000"/>
<circle cx="284" cy="336.2" r="2.35" fill="#000"/>
<circle cx="287.2" cy="336.4" r="2.35" fill="#000"/>
<circle cx="290.2" cy="336.5" r="2.35" fill="#000"/>
<path d="M281.00,331.00L285.00,335.00M285.00,331.00L281.00,335.00" stroke="#000" stroke-width="1.6" fill="none"/>
<path d="M287.50,330.50L291.50,334.50M291.50,330.50L287.50,334.50" stroke="#000" stroke-width="1.6" fill="none"/>
<path d="M284.50,332.50L288.50,336.50M288.50,332.50L284.50,336.50" stroke="#000" stroke-width="1.6" fill="none"/>
<circle cx="305.3" cy="249.9" r="2.1" fill="#fff" stroke="#000" stroke-width="1.7"/>
<circle cx="305" cy="289.6" r="2.1" fill="#fff" stroke="#000" stroke-width="1.7"/>
<circle cx="305" cy="307.6" r="2.1" fill="#fff" stroke="#000" stroke-width="1.7"/>
<circle cx="301.4" cy="330.4" r="2.1" fill="#fff" stroke="#000" stroke-width="1.7"/>
<circle cx="308.3" cy="329.8" r="2.1" fill="#fff" stroke="#000" stroke-width="1.7"/>
<line x1="297.9" y1="301.2" x2="311.6" y2="301.2" stroke="#000" stroke-width="1.6"/>
<circle cx="323.5" cy="288.6" r="2.1" fill="#fff" stroke="#000" stroke-width="1.7"/>
<circle cx="320.5" cy="316.1" r="2.1" fill="#fff" stroke="#000" stroke-width="1.7"/>
<circle cx="326.9" cy="318.2" r="2.1" fill="#fff" stroke="#000" stroke-width="1.7"/>
<circle cx="320.2" cy="332.8" r="2.1" fill="#fff" stroke="#000" stroke-width="1.7"/>
<circle cx="326.9" cy="330.2" r="2.1" fill="#fff" stroke="#000" stroke-width="1.7"/>
<line x1="316.9" y1="317.2" x2="330.6" y2="317.2" stroke="#000" stroke-width="1.6"/>
<circle cx="339.2" cy="316.9" r="2.2" fill="#858585" stroke="#000" stroke-width="1.45"/>
<circle cx="345.4" cy="322.5" r="2.2" fill="#858585" stroke="#000" stroke-width="1.45"/>
<circle cx="339.5" cy="326.5" r="2.2" fill="#858585" stroke="#000" stroke-width="1.45"/>
<circle cx="345.4" cy="328.1" r="2.2" fill="#858585" stroke="#000" stroke-width="1.45"/>
<circle cx="342.1" cy="330.2" r="2.2" fill="#858585" stroke="#000" stroke-width="1.45"/>
<line x1="335.5" y1="325.5" x2="348.1" y2="325.5" stroke="#000" stroke-width="1.6"/>
<circle cx="361.1" cy="289.5" r="2.2" fill="#858585" stroke="#000" stroke-width="1.45"/>
<circle cx="361.1" cy="300.5" r="2.2" fill="#858585" stroke="#000" stroke-width="1.45"/>
<circle cx="358.4" cy="322.7" r="2.2" fill="#858585" stroke="#000" stroke-width="1.45"/>
<circle cx="363.7" cy="323.5" r="2.2" fill="#858585" stroke="#000" stroke-width="1.45"/>
<circle cx="360.6" cy="328" r="2.2" fill="#858585" stroke="#000" stroke-width="1.45"/>
<line x1="354" y1="312.5" x2="368.1" y2="312.5" stroke="#000" stroke-width="1.6"/>
<circle cx="376.8" cy="321.2" r="2.35" fill="#000"/>
<circle cx="383" cy="321.6" r="2.35" fill="#000"/>
<circle cx="376.8" cy="329.2" r="2.35" fill="#000"/>
<circle cx="383" cy="329.2" r="2.35" fill="#000"/>
<circle cx="380" cy="331.9" r="2.35" fill="#000"/>
<line x1="373.3" y1="327.4" x2="386.6" y2="327.4" stroke="#000" stroke-width="1.6"/>
<circle cx="398.4" cy="313.8" r="2.35" fill="#000"/>
<circle cx="394.9" cy="318.6" r="2.35" fill="#000"/>
<circle cx="401.6" cy="323.9" r="2.35" fill="#000"/>
<circle cx="401.6" cy="327.4" r="2.35" fill="#000"/>
<circle cx="395.4" cy="332.2" r="2.35" fill="#000"/>
<line x1="391.9" y1="323" x2="405.2" y2="323" stroke="#000" stroke-width="1.6"/>
<polygon points="419.90,306.30 423.45,313.35 416.35,313.35" fill="#000"/>
<polygon points="419.90,309.78 420.82,311.61 418.98,311.61" fill="#aaa"/>
<polygon points="414.40,309.50 417.95,316.55 410.85,316.55" fill="#000"/>
<polygon points="414.40,312.98 415.32,314.81 413.48,314.81" fill="#aaa"/>
<polygon points="417.60,310.70 421.15,317.75 414.05,317.75" fill="#000"/>
<polygon points="417.60,314.18 418.52,316.01 416.68,316.01" fill="#aaa"/>
<polygon points="420.50,311.20 424.05,318.25 416.95,318.25" fill="#000"/>
<polygon points="420.50,314.68 421.42,316.51 419.58,316.51" fill="#aaa"/>
<polygon points="416.70,322.60 420.25,329.65 413.15,329.65" fill="#000"/>
<polygon points="416.70,326.08 417.62,327.91 415.78,327.91" fill="#aaa"/>
<line x1="411.4" y1="316.3" x2="423.8" y2="316.3" stroke="#000" stroke-width="1.6"/>
<polygon points="433.10,314.30 436.65,321.35 429.55,321.35" fill="#000"/>
<polygon points="433.10,317.78 434.02,319.61 432.18,319.61" fill="#aaa"/>
<polygon points="438.40,313.80 441.95,320.85 434.85,320.85" fill="#000"/>
<polygon points="438.40,317.28 439.32,319.11 437.48,319.11" fill="#aaa"/>
<polygon points="436.00,318.70 439.55,325.75 432.45,325.75" fill="#000"/>
<polygon points="436.00,322.18 436.92,324.01 435.08,324.01" fill="#aaa"/>
<polygon points="433.10,325.80 436.65,332.85 429.55,332.85" fill="#000"/>
<polygon points="433.10,329.28 434.02,331.11 432.18,331.11" fill="#aaa"/>
<polygon points="438.80,324.40 442.35,331.45 435.25,331.45" fill="#000"/>
<polygon points="438.80,327.88 439.72,329.71 437.88,329.71" fill="#aaa"/>
<line x1="429" y1="322.7" x2="442" y2="322.7" stroke="#000" stroke-width="1.6"/>
<line x1="47.3" y1="417.0" x2="47.3" y2="534.7" stroke="#000" stroke-width="1.35"/>
<line x1="43.9" y1="417.6" x2="47.3" y2="417.6" stroke="#000" stroke-width="1.2"/>
<text x="39.4" y="421.8" font-size="10.1" text-anchor="end" font-weight="normal" fill="#000">3</text>
<line x1="43.9" y1="456.7" x2="47.3" y2="456.7" stroke="#000" stroke-width="1.2"/>
<text x="39.4" y="460.9" font-size="10.1" text-anchor="end" font-weight="normal" fill="#000">2</text>
<line x1="43.9" y1="495.3" x2="47.3" y2="495.3" stroke="#000" stroke-width="1.2"/>
<text x="39.4" y="499.5" font-size="10.1" text-anchor="end" font-weight="normal" fill="#000">1</text>
<line x1="43.9" y1="534.1" x2="47.3" y2="534.1" stroke="#000" stroke-width="1.2"/>
<text x="39.4" y="538.3000000000001" font-size="10.1" text-anchor="end" font-weight="normal" fill="#000">0</text>
<line x1="44.0" y1="534.1" x2="215.5" y2="534.1" stroke="#000" stroke-width="1.4"/>
<line x1="56.8" y1="534.1" x2="56.8" y2="538.3000000000001" stroke="#000" stroke-width="1.1"/>
<line x1="75.3" y1="534.1" x2="75.3" y2="538.3000000000001" stroke="#000" stroke-width="1.1"/>
<line x1="93.7" y1="534.1" x2="93.7" y2="538.3000000000001" stroke="#000" stroke-width="1.1"/>
<line x1="112.4" y1="534.1" x2="112.4" y2="538.3000000000001" stroke="#000" stroke-width="1.1"/>
<line x1="131" y1="534.1" x2="131" y2="538.3000000000001" stroke="#000" stroke-width="1.1"/>
<line x1="149.9" y1="534.1" x2="149.9" y2="538.3000000000001" stroke="#000" stroke-width="1.1"/>
<line x1="168.6" y1="534.1" x2="168.6" y2="538.3000000000001" stroke="#000" stroke-width="1.1"/>
<line x1="187" y1="534.1" x2="187" y2="538.3000000000001" stroke="#000" stroke-width="1.1"/>
<line x1="207" y1="534.1" x2="207" y2="538.3000000000001" stroke="#000" stroke-width="1.1"/>
<text x="58.6" y="546.9" font-size="10.3" text-anchor="middle" font-weight="normal" fill="#000" textLength="17.4" lengthAdjust="spacingAndGlyphs">NM</text>
<text x="75.9" y="546.9" font-size="10.3" text-anchor="middle" font-weight="normal" fill="#000">7</text>
<text x="95.6" y="546.9" font-size="10.3" text-anchor="middle" font-weight="normal" fill="#000">10</text>
<text x="113.9" y="546.9" font-size="10.3" text-anchor="middle" font-weight="normal" fill="#000">7</text>
<text x="133" y="546.9" font-size="10.3" text-anchor="middle" font-weight="normal" fill="#000">10</text>
<text x="151.8" y="546.9" font-size="10.3" text-anchor="middle" font-weight="normal" fill="#000">7</text>
<text x="170.1" y="546.9" font-size="10.3" text-anchor="middle" font-weight="normal" fill="#000">10</text>
<text x="187.5" y="546.9" font-size="10.3" text-anchor="middle" font-weight="normal" fill="#000">7</text>
<text x="208.2" y="546.9" font-size="10.3" text-anchor="middle" font-weight="normal" fill="#000">10</text>
<line x1="72.5" y1="549.6" x2="98.9" y2="549.6" stroke="#333" stroke-width="2.4"/>
<line x1="109.2" y1="549.6" x2="135.8" y2="549.6" stroke="#333" stroke-width="2.4"/>
<line x1="146.9" y1="549.6" x2="173.5" y2="549.6" stroke="#333" stroke-width="2.4"/>
<line x1="184.8" y1="549.6" x2="212.3" y2="549.6" stroke="#333" stroke-width="2.4"/>
<text x="85.4" y="565.3" font-size="9.5" text-anchor="middle" font-weight="normal" fill="#000" textLength="16.6" lengthAdjust="spacingAndGlyphs">Not</text>
<text x="85.5" y="576.6" font-size="9.5" text-anchor="middle" font-weight="normal" fill="#000" textLength="32.2" lengthAdjust="spacingAndGlyphs">injected</text>
<text x="124" y="565.3" font-size="9.5" text-anchor="middle" font-weight="normal" fill="#000" textLength="13.8" lengthAdjust="spacingAndGlyphs">M0</text>
<text x="123.6" y="576.6" font-size="9.5" text-anchor="middle" font-weight="normal" fill="#000" textLength="32.2" lengthAdjust="spacingAndGlyphs">injected</text>
<text x="162.8" y="565.3" font-size="9.5" text-anchor="middle" font-weight="normal" fill="#000" textLength="13.8" lengthAdjust="spacingAndGlyphs">M1</text>
<text x="162.4" y="576.6" font-size="9.5" text-anchor="middle" font-weight="normal" fill="#000" textLength="32.2" lengthAdjust="spacingAndGlyphs">injected</text>
<text x="201.8" y="565.3" font-size="9.5" text-anchor="middle" font-weight="normal" fill="#000" textLength="13.8" lengthAdjust="spacingAndGlyphs">M2</text>
<text x="201.6" y="576.6" font-size="9.5" text-anchor="middle" font-weight="normal" fill="#000" textLength="32.2" lengthAdjust="spacingAndGlyphs">injected</text>
<text x="132.8" y="408.9" font-size="10.3" text-anchor="middle" font-weight="normal" fill="#000" textLength="24.4" lengthAdjust="spacingAndGlyphs">IP-10</text>
<text x="0" y="0" font-size="10.4" text-anchor="middle" transform="translate(10.3,477.05) rotate(-90)" textLength="87.9" lengthAdjust="spacingAndGlyphs">Relative expression</text>
<text x="0.4" y="575.9" font-size="11.8" text-anchor="start" font-weight="bold" fill="#000">e</text>
<path d="M54.20,436.10L58.20,440.10M58.20,436.10L54.20,440.10" stroke="#000" stroke-width="1.6" fill="none"/>
<path d="M54.20,463.50L58.20,467.50M58.20,463.50L54.20,467.50" stroke="#000" stroke-width="1.6" fill="none"/>
<path d="M54.20,479.10L58.20,483.10M58.20,479.10L54.20,483.10" stroke="#000" stroke-width="1.6" fill="none"/>
<path d="M58.10,490.80L62.10,494.80M62.10,490.80L58.10,494.80" stroke="#000" stroke-width="1.6" fill="none"/>
<path d="M51.80,495.60L55.80,499.60M55.80,495.60L51.80,499.60" stroke="#000" stroke-width="1.6" fill="none"/>
<path d="M52.30,508.90L56.30,512.90M56.30,508.90L52.30,512.90" stroke="#000" stroke-width="1.6" fill="none"/>
<path d="M57.40,506.60L61.40,510.60M61.40,506.60L57.40,510.60" stroke="#000" stroke-width="1.6" fill="none"/>
<path d="M54.20,508.90L58.20,512.90M58.20,508.90L54.20,512.90" stroke="#000" stroke-width="1.6" fill="none"/>
<path d="M51.80,524.50L55.80,528.50M55.80,524.50L51.80,528.50" stroke="#000" stroke-width="1.6" fill="none"/>
<path d="M57.40,520.60L61.40,524.60M61.40,520.60L57.40,524.60" stroke="#000" stroke-width="1.6" fill="none"/>
<line x1="50.8" y1="495.8" x2="62.5" y2="495.8" stroke="#000" stroke-width="1.25"/>
<circle cx="74.8" cy="425.3" r="2.1" fill="#fff" stroke="#000" stroke-width="1.7"/>
<circle cx="74.8" cy="459.2" r="2.1" fill="#fff" stroke="#000" stroke-width="1.7"/>
<circle cx="71.8" cy="473" r="2.1" fill="#fff" stroke="#000" stroke-width="1.7"/>
<circle cx="78.8" cy="474.8" r="2.1" fill="#fff" stroke="#000" stroke-width="1.7"/>
<circle cx="74.8" cy="504.6" r="2.1" fill="#fff" stroke="#000" stroke-width="1.7"/>
<line x1="69" y1="467.2" x2="81.8" y2="467.2" stroke="#000" stroke-width="1.25"/>
<circle cx="90.4" cy="474.8" r="2.1" fill="#fff" stroke="#000" stroke-width="1.7"/>
<circle cx="97.4" cy="481.8" r="2.1" fill="#fff" stroke="#000" stroke-width="1.7"/>
<circle cx="91.1" cy="498.1" r="2.1" fill="#fff" stroke="#000" stroke-width="1.7"/>
<circle cx="93.9" cy="504.6" r="2.1" fill="#fff" stroke="#000" stroke-width="1.7"/>
<circle cx="97.4" cy="504.6" r="2.1" fill="#fff" stroke="#000" stroke-width="1.7"/>
<line x1="86.9" y1="493" x2="100.9" y2="493" stroke="#000" stroke-width="1.25"/>
<circle cx="112.5" cy="462" r="2.2" fill="#858585" stroke="#000" stroke-width="1.45"/>
<circle cx="109" cy="502.8" r="2.2" fill="#858585" stroke="#000" stroke-width="1.45"/>
<circle cx="116" cy="503.9" r="2.2" fill="#858585" stroke="#000" stroke-width="1.45"/>
<circle cx="115.3" cy="512.5" r="2.2" fill="#858585" stroke="#000" stroke-width="1.45"/>
<circle cx="109" cy="519.1" r="2.2" fill="#858585" stroke="#000" stroke-width="1.45"/>
<line x1="106" y1="500" x2="119" y2="500" stroke="#000" stroke-width="1.25"/>
<circle cx="131.5" cy="458.1" r="2.2" fill="#858585" stroke="#000" stroke-width="1.45"/>
<circle cx="128.5" cy="501.6" r="2.2" fill="#858585" stroke="#000" stroke-width="1.45"/>
<circle cx="134.8" cy="500.9" r="2.2" fill="#858585" stroke="#000" stroke-width="1.45"/>
<circle cx="130.1" cy="506.3" r="2.2" fill="#858585" stroke="#000" stroke-width="1.45"/>
<circle cx="133.1" cy="505.1" r="2.2" fill="#858585" stroke="#000" stroke-width="1.45"/>
<line x1="125" y1="494.6" x2="137.8" y2="494.6" stroke="#000" stroke-width="1.25"/>
<circle cx="150.1" cy="438.3" r="2.35" fill="#000"/>
<circle cx="150.1" cy="471.3" r="2.35" fill="#000"/>
<circle cx="150.1" cy="490" r="2.35" fill="#000"/>
<circle cx="150.1" cy="502.3" r="2.35" fill="#000"/>
<circle cx="150.1" cy="512.8" r="2.35" fill="#000"/>
<line x1="143.2" y1="483" x2="156.4" y2="483" stroke="#000" stroke-width="1.25"/>
<circle cx="168.5" cy="482.3" r="2.35" fill="#000"/>
<circle cx="168.5" cy="497" r="2.35" fill="#000"/>
<circle cx="165.7" cy="505.6" r="2.35" fill="#000"/>
<circle cx="171.6" cy="509.3" r="2.35" fill="#000"/>
<circle cx="168.5" cy="512.8" r="2.35" fill="#000"/>
<line x1="162.3" y1="500.9" x2="175.1" y2="500.9" stroke="#000" stroke-width="1.25"/>
<polygon points="186.70,453.10 190.25,460.15 183.15,460.15" fill="#000"/>
<polygon points="186.70,456.58 187.62,458.41 185.78,458.41" fill="#aaa"/>
<polygon points="183.20,481.00 186.75,488.05 179.65,488.05" fill="#000"/>
<polygon points="183.20,484.48 184.12,486.31 182.28,486.31" fill="#aaa"/>
<polygon points="190.90,477.50 194.45,484.55 187.35,484.55" fill="#000"/>
<polygon points="190.90,480.98 191.82,482.81 189.98,482.81" fill="#aaa"/>
<polygon points="186.70,489.90 190.25,496.95 183.15,496.95" fill="#000"/>
<polygon points="186.70,493.38 187.62,495.21 185.78,495.21" fill="#aaa"/>
<polygon points="186.70,503.10 190.25,510.15 183.15,510.15" fill="#000"/>
<polygon points="186.70,506.58 187.62,508.41 185.78,508.41" fill="#aaa"/>
<line x1="180.9" y1="486" x2="192.5" y2="486" stroke="#000" stroke-width="1.25"/>
<polygon points="204.20,475.20 207.75,482.25 200.65,482.25" fill="#000"/>
<polygon points="204.20,478.68 205.12,480.51 203.28,480.51" fill="#aaa"/>
<polygon points="210.00,470.50 213.55,477.55 206.45,477.55" fill="#000"/>
<polygon points="210.00,473.98 210.92,475.81 209.08,475.81" fill="#aaa"/>
<polygon points="206.50,476.40 210.05,483.45 202.95,483.45" fill="#000"/>
<polygon points="206.50,479.88 207.42,481.71 205.58,481.71" fill="#aaa"/>
<polygon points="203.70,493.80 207.25,500.85 200.15,500.85" fill="#000"/>
<polygon points="203.70,497.28 204.62,499.11 202.78,499.11" fill="#aaa"/>
<polygon points="210.70,493.30 214.25,500.35 207.15,500.35" fill="#000"/>
<polygon points="210.70,496.78 211.62,498.61 209.78,498.61" fill="#aaa"/>
<line x1="200" y1="486.5" x2="213.9" y2="486.5" stroke="#000" stroke-width="1.25"/>
<line x1="282.0" y1="418.4" x2="282.0" y2="536.0" stroke="#000" stroke-width="1.35"/>
<line x1="278.6" y1="419" x2="282.0" y2="419" stroke="#000" stroke-width="1.2"/>
<text x="270.6" y="423.2" font-size="10.1" text-anchor="end" font-weight="normal" fill="#000">25</text>
<line x1="278.6" y1="442.3" x2="282.0" y2="442.3" stroke="#000" stroke-width="1.2"/>
<text x="270.6" y="446.5" font-size="10.1" text-anchor="end" font-weight="normal" fill="#000">20</text>
<line x1="278.6" y1="465.6" x2="282.0" y2="465.6" stroke="#000" stroke-width="1.2"/>
<text x="270.6" y="469.8" font-size="10.1" text-anchor="end" font-weight="normal" fill="#000">15</text>
<line x1="278.6" y1="488.9" x2="282.0" y2="488.9" stroke="#000" stroke-width="1.2"/>
<text x="270.6" y="493.09999999999997" font-size="10.1" text-anchor="end" font-weight="normal" fill="#000">10</text>
<line x1="278.6" y1="512.2" x2="282.0" y2="512.2" stroke="#000" stroke-width="1.2"/>
<text x="270.6" y="516.4000000000001" font-size="10.1" text-anchor="end" font-weight="normal" fill="#000">5</text>
<line x1="278.6" y1="535.4" x2="282.0" y2="535.4" stroke="#000" stroke-width="1.2"/>
<text x="270.6" y="539.6" font-size="10.1" text-anchor="end" font-weight="normal" fill="#000">0</text>
<line x1="278.5" y1="535.4" x2="450.5" y2="535.4" stroke="#000" stroke-width="1.4"/>
<line x1="291.6" y1="535.4" x2="291.6" y2="539.6" stroke="#000" stroke-width="1.1"/>
<line x1="309.5" y1="535.4" x2="309.5" y2="539.6" stroke="#000" stroke-width="1.1"/>
<line x1="328.2" y1="535.4" x2="328.2" y2="539.6" stroke="#000" stroke-width="1.1"/>
<line x1="347" y1="535.4" x2="347" y2="539.6" stroke="#000" stroke-width="1.1"/>
<line x1="365.8" y1="535.4" x2="365.8" y2="539.6" stroke="#000" stroke-width="1.1"/>
<line x1="384.7" y1="535.4" x2="384.7" y2="539.6" stroke="#000" stroke-width="1.1"/>
<line x1="403.4" y1="535.4" x2="403.4" y2="539.6" stroke="#000" stroke-width="1.1"/>
<line x1="421.5" y1="535.4" x2="421.5" y2="539.6" stroke="#000" stroke-width="1.1"/>
<line x1="441.2" y1="535.4" x2="441.2" y2="539.6" stroke="#000" stroke-width="1.1"/>
<text x="293.5" y="547.6" font-size="10.3" text-anchor="middle" font-weight="normal" fill="#000" textLength="17.4" lengthAdjust="spacingAndGlyphs">NM</text>
<text x="310.4" y="547.6" font-size="10.3" text-anchor="middle" font-weight="normal" fill="#000">7</text>
<text x="329.8" y="547.6" font-size="10.3" text-anchor="middle" font-weight="normal" fill="#000">10</text>
<text x="348" y="547.6" font-size="10.3" text-anchor="middle" font-weight="normal" fill="#000">7</text>
<text x="367.2" y="547.6" font-size="10.3" text-anchor="middle" font-weight="normal" fill="#000">10</text>
<text x="385.5" y="547.6" font-size="10.3" text-anchor="middle" font-weight="normal" fill="#000">7</text>
<text x="404.7" y="547.6" font-size="10.3" text-anchor="middle" font-weight="normal" fill="#000">10</text>
<text x="422.6" y="547.6" font-size="10.3" text-anchor="middle" font-weight="normal" fill="#000">7</text>
<text x="441.5" y="547.6" font-size="10.3" text-anchor="middle" font-weight="normal" fill="#000">10</text>
<line x1="306.5" y1="550.3" x2="333.1" y2="550.3" stroke="#333" stroke-width="2.4"/>
<line x1="343.4" y1="550.3" x2="370" y2="550.3" stroke="#333" stroke-width="2.4"/>
<line x1="381.1" y1="550.3" x2="407.7" y2="550.3" stroke="#333" stroke-width="2.4"/>
<line x1="419.3" y1="550.3" x2="446.2" y2="550.3" stroke="#333" stroke-width="2.4"/>
<text x="319.4" y="565.3" font-size="9.5" text-anchor="middle" font-weight="normal" fill="#000" textLength="16.6" lengthAdjust="spacingAndGlyphs">Not</text>
<text x="318.8" y="576.6" font-size="9.5" text-anchor="middle" font-weight="normal" fill="#000" textLength="32.2" lengthAdjust="spacingAndGlyphs">injected</text>
<text x="358.8" y="565.3" font-size="9.5" text-anchor="middle" font-weight="normal" fill="#000" textLength="13.8" lengthAdjust="spacingAndGlyphs">M0</text>
<text x="358.9" y="576.6" font-size="9.5" text-anchor="middle" font-weight="normal" fill="#000" textLength="32.2" lengthAdjust="spacingAndGlyphs">injected</text>
<text x="396.2" y="565.3" font-size="9.5" text-anchor="middle" font-weight="normal" fill="#000" textLength="13.8" lengthAdjust="spacingAndGlyphs">M1</text>
<text x="396.4" y="576.6" font-size="9.5" text-anchor="middle" font-weight="normal" fill="#000" textLength="32.2" lengthAdjust="spacingAndGlyphs">injected</text>
<text x="435.3" y="565.3" font-size="9.5" text-anchor="middle" font-weight="normal" fill="#000" textLength="13.8" lengthAdjust="spacingAndGlyphs">M2</text>
<text x="435.2" y="576.6" font-size="9.5" text-anchor="middle" font-weight="normal" fill="#000" textLength="32.2" lengthAdjust="spacingAndGlyphs">injected</text>
<text x="354.5" y="408.9" font-size="10.3" text-anchor="middle" font-weight="normal" fill="#000" textLength="25.0" lengthAdjust="spacingAndGlyphs">iNOS</text>
<text x="0" y="0" font-size="10.4" text-anchor="middle" transform="translate(251.7,479.25) rotate(-90)" textLength="88.1" lengthAdjust="spacingAndGlyphs">Relative expression</text>
<text x="244.6" y="575.9" font-size="11.8" text-anchor="start" font-weight="bold" fill="#000">f</text>
<circle cx="288" cy="528" r="2.35" fill="#000"/>
<circle cx="291" cy="526.6" r="2.35" fill="#000"/>
<circle cx="289.8" cy="531" r="2.35" fill="#000"/>
<circle cx="294" cy="530" r="2.35" fill="#000"/>
<circle cx="295.3" cy="531.6" r="2.35" fill="#000"/>
<circle cx="289" cy="533" r="2.35" fill="#000"/>
<circle cx="292.5" cy="533.3" r="2.35" fill="#000"/>
<path d="M286.00,527.50L290.00,531.50M290.00,527.50L286.00,531.50" stroke="#000" stroke-width="1.6" fill="none"/>
<path d="M290.00,527.00L294.00,531.00M294.00,527.00L290.00,531.00" stroke="#000" stroke-width="1.6" fill="none"/>
<circle cx="310.3" cy="446.3" r="2.1" fill="#fff" stroke="#000" stroke-width="1.7"/>
<circle cx="310.3" cy="475" r="2.1" fill="#fff" stroke="#000" stroke-width="1.7"/>
<circle cx="309.9" cy="495.6" r="2.1" fill="#fff" stroke="#000" stroke-width="1.7"/>
<circle cx="307.2" cy="505.3" r="2.1" fill="#fff" stroke="#000" stroke-width="1.7"/>
<circle cx="313.2" cy="504.9" r="2.1" fill="#fff" stroke="#000" stroke-width="1.7"/>
<line x1="303.1" y1="485.1" x2="316.3" y2="485.1" stroke="#000" stroke-width="1.6"/>
<circle cx="329.8" cy="507" r="2.1" fill="#fff" stroke="#000" stroke-width="1.7"/>
<circle cx="325.8" cy="509.6" r="2.1" fill="#fff" stroke="#000" stroke-width="1.7"/>
<circle cx="331.8" cy="510.2" r="2.1" fill="#fff" stroke="#000" stroke-width="1.7"/>
<circle cx="327.8" cy="513.9" r="2.1" fill="#fff" stroke="#000" stroke-width="1.7"/>
<circle cx="330.4" cy="513.6" r="2.1" fill="#fff" stroke="#000" stroke-width="1.7"/>
<line x1="323.7" y1="510.5" x2="335" y2="510.5" stroke="#000" stroke-width="1.6"/>
<circle cx="343.9" cy="499.2" r="2.2" fill="#858585" stroke="#000" stroke-width="1.45"/>
<circle cx="347.7" cy="496.3" r="2.2" fill="#858585" stroke="#000" stroke-width="1.45"/>
<circle cx="350.6" cy="506" r="2.2" fill="#858585" stroke="#000" stroke-width="1.45"/>
<circle cx="343.9" cy="517.6" r="2.2" fill="#858585" stroke="#000" stroke-width="1.45"/>
<circle cx="350.6" cy="516" r="2.2" fill="#858585" stroke="#000" stroke-width="1.45"/>
<line x1="340.6" y1="507.1" x2="352.9" y2="507.1" stroke="#000" stroke-width="1.6"/>
<circle cx="363" cy="497.8" r="2.2" fill="#858585" stroke="#000" stroke-width="1.45"/>
<circle cx="368.7" cy="501" r="2.2" fill="#858585" stroke="#000" stroke-width="1.45"/>
<circle cx="363.4" cy="504.1" r="2.2" fill="#858585" stroke="#000" stroke-width="1.45"/>
<circle cx="366.6" cy="508.3" r="2.2" fill="#858585" stroke="#000" stroke-width="1.45"/>
<circle cx="369.3" cy="509.4" r="2.2" fill="#858585" stroke="#000" stroke-width="1.45"/>
<circle cx="364.5" cy="509.4" r="2.2" fill="#858585" stroke="#000" stroke-width="1.45"/>
<line x1="359.6" y1="504.1" x2="372.9" y2="504.1" stroke="#000" stroke-width="1.6"/>
<circle cx="384.8" cy="448.4" r="2.35" fill="#000"/>
<circle cx="384.8" cy="499.9" r="2.35" fill="#000"/>
<circle cx="381.9" cy="510.4" r="2.35" fill="#000"/>
<circle cx="387.6" cy="511.5" r="2.35" fill="#000"/>
<circle cx="384.8" cy="514.6" r="2.35" fill="#000"/>
<line x1="378.1" y1="496.7" x2="391.8" y2="496.7" stroke="#000" stroke-width="1.6"/>
<circle cx="400.2" cy="511.9" r="2.35" fill="#000"/>
<circle cx="405.9" cy="513.1" r="2.35" fill="#000"/>
<circle cx="405.9" cy="516.7" r="2.35" fill="#000"/>
<circle cx="402.9" cy="520.9" r="2.35" fill="#000"/>
<line x1="396.6" y1="515.2" x2="410.1" y2="515.2" stroke="#000" stroke-width="1.6"/>
<polygon points="421.80,484.00 425.35,491.05 418.25,491.05" fill="#000"/>
<polygon points="421.80,487.48 422.72,489.31 420.88,489.31" fill="#aaa"/>
<polygon points="421.80,501.90 425.35,508.95 418.25,508.95" fill="#000"/>
<polygon points="421.80,505.38 422.72,507.21 420.88,507.21" fill="#aaa"/>
<polygon points="418.50,517.20 422.05,524.25 414.95,524.25" fill="#000"/>
<polygon points="418.50,520.68 419.42,522.51 417.58,522.51" fill="#aaa"/>
<polygon points="425.40,521.50 428.95,528.55 421.85,528.55" fill="#000"/>
<polygon points="425.40,524.98 426.32,526.81 424.48,526.81" fill="#aaa"/>
<polygon points="421.80,529.90 425.35,536.95 418.25,536.95" fill="#000"/>
<polygon points="421.80,533.38 422.72,535.21 420.88,535.21" fill="#aaa"/>
<line x1="415.5" y1="514.6" x2="429" y2="514.6" stroke="#000" stroke-width="1.6"/>
<polygon points="438.00,498.70 441.55,505.75 434.45,505.75" fill="#000"/>
<polygon points="438.00,502.18 438.92,504.01 437.08,504.01" fill="#aaa"/>
<polygon points="443.70,497.10 447.25,504.15 440.15,504.15" fill="#000"/>
<polygon points="443.70,500.58 444.62,502.41 442.78,502.41" fill="#aaa"/>
<polygon points="440.80,505.10 444.35,512.15 437.25,512.15" fill="#000"/>
<polygon points="440.80,508.58 441.72,510.41 439.88,510.41" fill="#aaa"/>
<polygon points="444.30,509.30 447.85,516.35 440.75,516.35" fill="#000"/>
<polygon points="444.30,512.78 445.22,514.61 443.38,514.61" fill="#aaa"/>
<polygon points="438.00,512.40 441.55,519.45 434.45,519.45" fill="#000"/>
<polygon points="438.00,515.88 438.92,517.71 437.08,517.71" fill="#aaa"/>
<line x1="434.4" y1="508.3" x2="447.1" y2="508.3" stroke="#000" stroke-width="1.6"/>
</svg></body></html>
